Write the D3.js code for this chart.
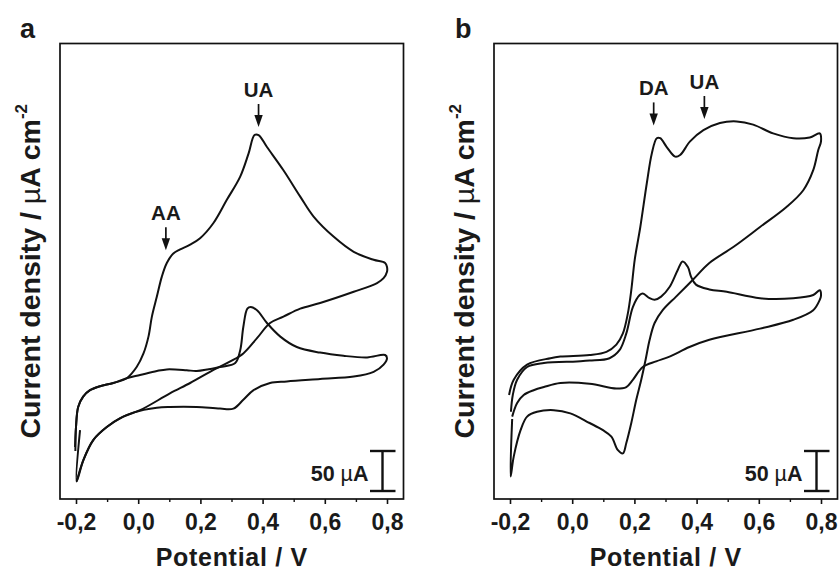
<!DOCTYPE html>
<html lang="en">
<head>
    <meta charset="UTF-8">
    <title>Cyclic voltammograms</title>
    <script src="https://d3js.org/d3.v7.min.js"></script>
    <style>
        body { margin: 0; background: #fff; }
        svg text { font-family: "Liberation Sans", Arial, sans-serif; font-weight: bold; fill: #1a1a1a; }
    </style>
</head>
<body>
<script>
    const width = 840;
    const height = 571;

    // x axis: potential (V)
    const potentialTicks = [-0.2, 0.0, 0.2, 0.4, 0.6, 0.8];
    const tickLabels = ['-0,2', '0,0', '0,2', '0,4', '0,6', '0,8'];
    const minorTicks = [-0.1, 0.1, 0.3, 0.5, 0.7];

    // curves: [potential V, current µA (arbitrary offset)]
    const cvA1 = [[-0.203,65],[-0.200,90],[-0.193,115],[-0.177,128],[-0.155,136],[-0.123,141],[-0.080,145],[-0.037,151],
        [-0.005,165],[0.017,182],[0.033,203],[0.044,228],[0.060,253],[0.076,278],[0.092,295],[0.113,307],[0.135,312],
        [0.167,318],[0.199,326],[0.242,345],[0.285,374],[0.328,403],[0.355,432],[0.374,455],[0.387,455],[0.414,440],
        [0.467,411],[0.521,378],[0.564,353],[0.628,328],[0.693,309],[0.757,299],[0.794,295],[0.800,290],[0.800,284],
        [0.789,276],[0.768,270],[0.693,259],[0.585,245],[0.521,238],[0.467,228],[0.424,220],[0.382,201],[0.338,182],
        [0.296,172],[0.231,159],[0.167,145],[0.102,132],[0.006,111],[-0.048,103],[-0.101,90],[-0.144,74],[-0.176,49],
        [-0.198,22],[-0.187,86]];
    const cvA2 = [[-0.202,60],[-0.200,90],[-0.193,115],[-0.177,128],[-0.155,136],[-0.123,141],[-0.080,145],[-0.037,151],
        [0.006,155],[0.060,160],[0.092,162],[0.156,161],[0.188,160],[0.263,165],[0.312,170],[0.328,186],[0.338,215],
        [0.351,238],[0.362,240],[0.382,236],[0.414,220],[0.457,203],[0.510,190],[0.585,183],[0.660,179],[0.736,177],
        [0.794,180],[0.800,176],[0.789,168],[0.757,159],[0.693,153],[0.585,150],[0.478,147],[0.424,145],[0.371,136],
        [0.338,124],[0.306,113],[0.263,113],[0.188,115],[0.102,115],[0.060,114],[-0.016,108],[-0.058,101],[-0.101,90],
        [-0.144,74],[-0.176,49],[-0.198,22]];
    const cvB1 = [[-0.203,130],[-0.188,149],[-0.145,168],[-0.070,176],[-0.038,178],[0.056,180],[0.110,184],[0.142,193],
        [0.163,207],[0.179,232],[0.190,261],[0.201,299],[0.219,340],[0.240,395],[0.256,432],[0.272,451],[0.283,451],
        [0.304,440],[0.331,428],[0.347,430],[0.379,447],[0.422,461],[0.475,470],[0.529,472],[0.582,468],[0.646,457],
        [0.711,451],[0.764,452],[0.796,457],[0.800,447],[0.791,436],[0.775,411],[0.743,386],[0.689,365],[0.604,340],
        [0.518,315],[0.441,295],[0.388,274],[0.334,253],[0.291,236],[0.265,220],[0.249,199],[0.236,174],[0.222,149],
        [0.206,124],[0.190,95],[0.174,70],[0.163,57],[0.147,61],[0.126,78],[0.099,86],[0.056,95],[-0.006,107],
        [-0.059,111],[-0.113,109],[-0.145,103],[-0.166,86],[-0.188,53],[-0.198,28],[-0.193,100]];
    const cvB2 = [[-0.197,109],[-0.191,130],[-0.177,149],[-0.145,165],[-0.091,170],[0.015,172],[0.056,173],[0.120,176],
        [0.152,186],[0.174,207],[0.195,240],[0.217,255],[0.227,257],[0.249,251],[0.265,249],[0.286,253],[0.313,265],
        [0.339,286],[0.355,297],[0.372,290],[0.382,278],[0.398,268],[0.441,262],[0.497,259],[0.604,251],[0.711,251],
        [0.775,255],[0.796,261],[0.800,254],[0.796,249],[0.775,236],[0.711,224],[0.604,213],[0.441,199],[0.377,190],
        [0.313,178],[0.270,172],[0.227,165],[0.195,149],[0.174,140],[0.142,138],[0.056,144],[-0.038,145],[-0.091,140],
        [-0.124,136],[-0.156,130],[-0.177,120],[-0.193,103]];

    // peak markers: label, potential, current at arrow tip
    const notesA = [{ label: 'AA', E: 0.089, I: 311 }, { label: 'UA', E: 0.387, I: 465 }];
    const notesB = [{ label: 'DA', E: 0.262, I: 467 }, { label: 'UA', E: 0.425, I: 475 }];

    const scaleBarValue = 50; // µA
    const scaleBarBase = 10;

    const panelTop = 43.5, panelH = 455.5, panelW = 343.5;
    const panels = [
        { id: 'a', left: 60, curves: [cvA1, cvA2], notes: notesA, labelX: 20 },
        { id: 'b', left: 494, curves: [cvB1, cvB2], notes: notesB, labelX: 455 }
    ];

    const svg = d3.select('body')
        .append('svg')
        .attr('width', width)
        .attr('height', height);

    const y = d3.scaleLinear()
        .domain([0, 569.4])
        .range([panelH, 0]);

    panels.forEach(p => {
        const g = svg.append('g').attr('transform', `translate(${p.left},${panelTop})`);

        const x = d3.scaleLinear()
            .domain([-0.2, 0.8])
            .range([16, panelW - 16.5]);

        const line = d3.line()
            .x(d => x(d[0]))
            .y(d => y(d[1]))
            .curve(d3.curveCatmullRom.alpha(0.5));

        g.selectAll('path.cv')
            .data(p.curves)
            .enter()
            .append('path')
            .attr('class', 'cv')
            .attr('d', line)
            .attr('fill', 'none')
            .attr('stroke', '#111')
            .attr('stroke-width', 2)
            .attr('stroke-linejoin', 'round');

        // frame
        g.append('rect')
            .attr('width', panelW)
            .attr('height', panelH)
            .attr('fill', 'none')
            .attr('stroke', '#111')
            .attr('stroke-width', 1.7);

        // x axis, major + minor ticks
        const axis = g.append('g')
            .attr('transform', `translate(0,${panelH})`)
            .call(d3.axisBottom(x)
                .tickValues(potentialTicks)
                .tickFormat((d, i) => tickLabels[i])
                .tickSize(5)
                .tickPadding(10))
            .attr('font-size', null);
        axis.select('.domain').remove();
        axis.selectAll('.tick line').attr('stroke', '#111').attr('stroke-width', 1.6);
        axis.selectAll('.tick text')
            .attr('font-size', 23)
            .style('font-family', '"Liberation Sans", Arial, sans-serif')
            .style('font-weight', 'bold')
            .attr('fill', '#1a1a1a');

        const minor = g.append('g')
            .attr('transform', `translate(0,${panelH})`)
            .call(d3.axisBottom(x).tickValues(minorTicks).tickFormat('').tickSize(3));
        minor.select('.domain').remove();
        minor.selectAll('.tick line').attr('stroke', '#111').attr('stroke-width', 1.4);

        g.append('text')
            .attr('x', panelW / 2)
            .attr('y', 522)
            .attr('text-anchor', 'middle')
            .attr('font-size', 25)
            .attr('letter-spacing', 0.7)
            .text('Potential / V');

        // y title
        const yt = g.append('text')
            .attr('transform', `translate(-20,${panelH / 2}) rotate(-90)`)
            .attr('text-anchor', 'middle')
            .attr('font-size', 28.5);
        yt.append('tspan').text('Current density / ');
        yt.append('tspan').style('font-weight', 'normal').text('\u00b5');
        yt.append('tspan').text('A cm');
        yt.append('tspan').attr('font-size', 17).attr('dy', -13).text('-2');

        // panel letter
        svg.append('text')
            .attr('x', p.labelX)
            .attr('y', 38)
            .attr('font-size', 27)
            .text(p.id);

        // arrows and peak labels
        const notes = g.selectAll('g.note')
            .data(p.notes)
            .enter()
            .append('g')
            .attr('class', 'note')
            .attr('transform', d => `translate(${x(d.E)},${y(d.I)})`);
        notes.append('line')
            .attr('y1', -23).attr('y2', -10)
            .attr('stroke', '#111').attr('stroke-width', 1.7);
        notes.append('path')
            .attr('d', 'M-4.2,-12 L4.2,-12 L0,0 Z')
            .attr('fill', '#111');
        notes.append('text')
            .attr('y', -30)
            .attr('text-anchor', 'middle')
            .attr('font-size', 20.5)
            .text(d => d.label);

        // 50 µA scale bar
        const bx = panelW - 21;
        const y0 = y(scaleBarBase), y1 = y(scaleBarBase + scaleBarValue);
        const bar = g.append('g').attr('stroke', '#111').attr('stroke-width', 2.4);
        bar.append('line').attr('x1', bx).attr('x2', bx).attr('y1', y0).attr('y2', y1);
        bar.append('line').attr('x1', bx - 12.5).attr('x2', bx + 13).attr('y1', y0).attr('y2', y0);
        bar.append('line').attr('x1', bx - 12.5).attr('x2', bx + 13).attr('y1', y1).attr('y2', y1);

        const bl = g.append('text')
            .attr('x', bx - 14)
            .attr('y', y0 - 10)
            .attr('text-anchor', 'end')
            .attr('font-size', 21.5);
        bl.append('tspan').text('50 ');
        bl.append('tspan').style('font-weight', 'normal').text('\u00b5');
        bl.append('tspan').text('A');
    });
</script>
</body>
</html>
